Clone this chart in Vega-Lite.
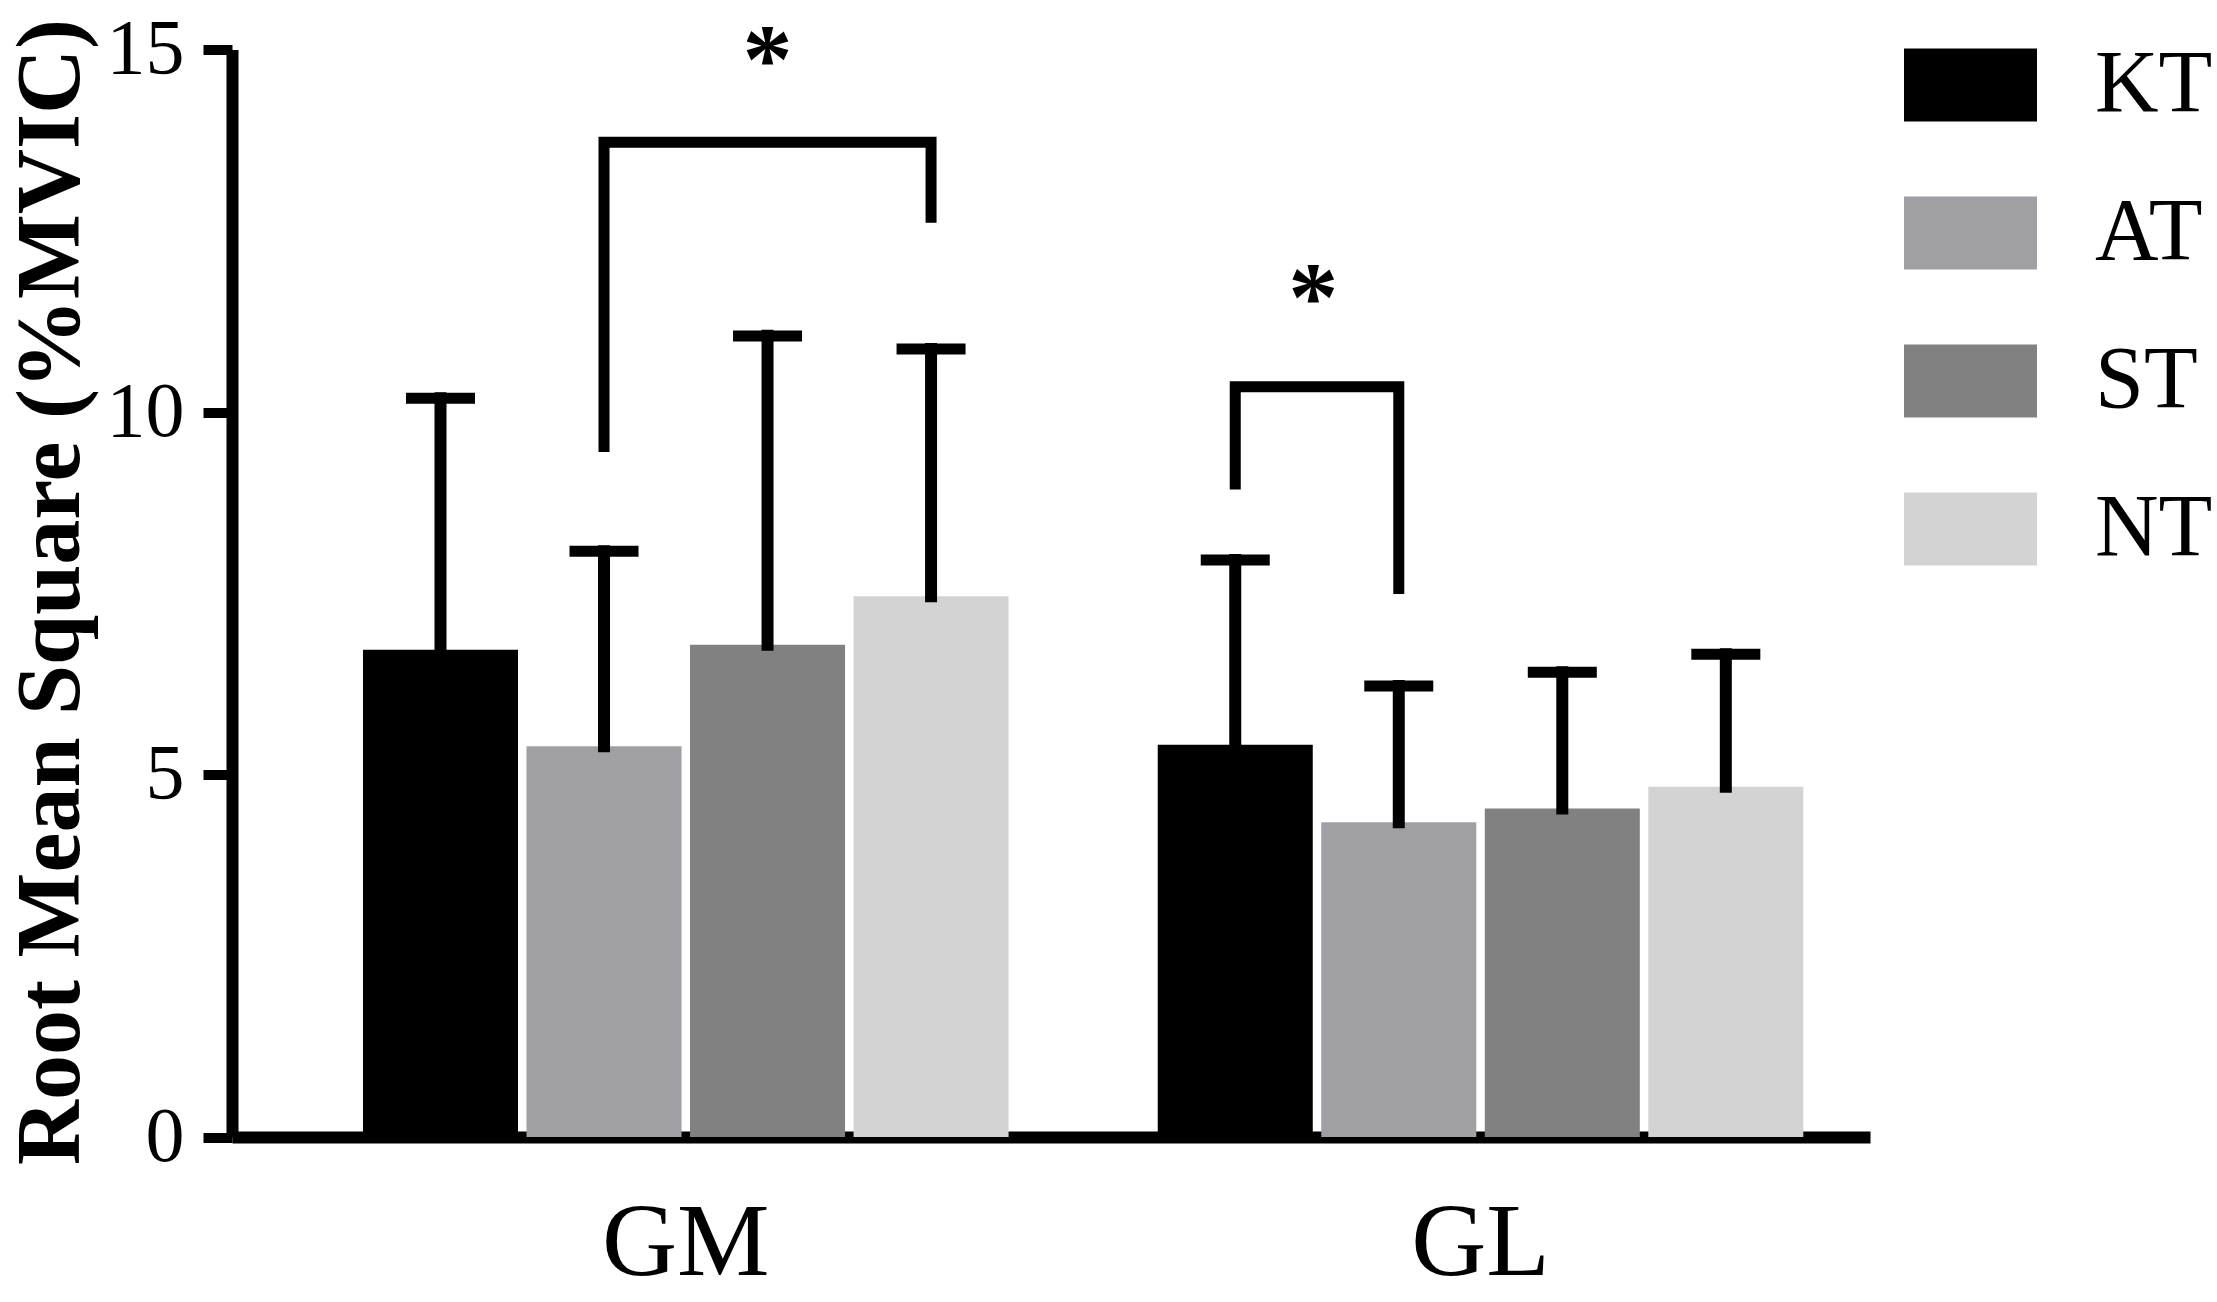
{
  "$schema": "https://vega.github.io/schema/vega-lite/v6.json",
  "autosize": {"type": "none"},
  "padding": {"left": 232, "top": 49.5, "right": 347, "bottom": 165},
  "width": 1638,
  "height": 1087.5,
  "background": "white",
  "config": {
    "view": {"stroke": null},
    "axis": {"domainColor": "black", "tickColor": "black", "labelColor": "black", "titleColor": "black", "grid": false}
  },
  "datasets": {
    "bars": [
      {"muscle": "GM", "cond": "KT", "mean": 6.72, "upper": 10.19},
      {"muscle": "GM", "cond": "AT", "mean": 5.39, "upper": 8.08},
      {"muscle": "GM", "cond": "ST", "mean": 6.79, "upper": 11.05},
      {"muscle": "GM", "cond": "NT", "mean": 7.46, "upper": 10.87},
      {"muscle": "GL", "cond": "KT", "mean": 5.41, "upper": 7.96},
      {"muscle": "GL", "cond": "AT", "mean": 4.34, "upper": 6.22},
      {"muscle": "GL", "cond": "ST", "mean": 4.53, "upper": 6.41},
      {"muscle": "GL", "cond": "NT", "mean": 4.83, "upper": 6.66}
    ],
    "brackets": [
      {"id": "b1", "muscle": "GM", "cond": "AT", "y": 9.45, "ord": 1},
      {"id": "b1", "muscle": "GM", "cond": "AT", "y": 13.72, "ord": 2},
      {"id": "b1", "muscle": "GM", "cond": "NT", "y": 13.72, "ord": 3},
      {"id": "b1", "muscle": "GM", "cond": "NT", "y": 12.61, "ord": 4},
      {"id": "b2", "muscle": "GL", "cond": "KT", "y": 8.93, "ord": 1},
      {"id": "b2", "muscle": "GL", "cond": "KT", "y": 10.35, "ord": 2},
      {"id": "b2", "muscle": "GL", "cond": "AT", "y": 10.35, "ord": 3},
      {"id": "b2", "muscle": "GL", "cond": "AT", "y": 7.49, "ord": 4}
    ],
    "stars": [
      {"muscle": "GM", "cond": "ST", "y": 15.07, "label": "*"},
      {"muscle": "GL", "cond": "KT", "y": 11.79, "label": "*"}
    ]
  },
  "encoding": {
    "x": {
      "field": "muscle", "type": "nominal",
      "scale": {"domain": ["GM", "GL"], "paddingInner": 0.177, "paddingOuter": 0.119, "align": 0.67},
      "axis": {"title": null, "ticks": false, "tickSize": 0, "domainWidth": 12, "labelAngle": 0, "labelFont": "Liberation Serif", "labelFontSize": 104, "labelPadding": 137, "labelBaseline": "alphabetic"}
    },
    "xOffset": {
      "field": "cond", "type": "nominal",
      "scale": {"domain": ["KT", "AT", "ST", "NT"], "paddingInner": 0.052, "paddingOuter": 0.026}
    }
  },
  "layer": [
    {
      "data": {"name": "bars"},
      "mark": {"type": "bar"},
      "encoding": {
        "y": {
          "field": "mean", "type": "quantitative",
          "scale": {"domain": [0, 15], "nice": false, "zero": true},
          "axis": {
            "values": [0, 5, 10, 15], "format": "d", "tickSize": 29, "tickWidth": 10, "domainWidth": 12, "labelPadding": 19,
            "labelFont": "Liberation Serif", "labelFontSize": 78,
            "title": "Root Mean Square (%MVIC)", "titleFont": "Liberation Serif", "titleFontWeight": "bold",
            "titleFontSize": 90, "titleAngle": -90, "titleX": -154, "titleY": 542,
            "titleAlign": "center", "titleBaseline": "alphabetic"
          }
        },
        "color": {
          "field": "cond", "type": "nominal",
          "scale": {"domain": ["KT", "AT", "ST", "NT"], "range": ["#000000", "#a0a0a4", "#818181", "#d3d3d3"]},
          "legend": {
            "orient": "none", "legendX": 1672, "legendY": -31, "title": null, "padding": 0,
            "symbolType": "M-1,-0.55H1V0.55H-1Z", "symbolSize": 17689, "symbolStrokeWidth": 0,
            "labelFont": "Liberation Serif", "labelFontSize": 88, "labelOffset": 58, "labelColor": "black",
            "rowPadding": 37
          }
        }
      }
    },
    {
      "data": {"name": "bars"},
      "mark": {"type": "rule", "color": "black", "strokeWidth": 12, "strokeCap": "square"},
      "encoding": {
        "y": {"field": "mean", "type": "quantitative"},
        "y2": {"field": "upper"}
      }
    },
    {
      "data": {"name": "bars"},
      "mark": {"type": "tick", "color": "black", "thickness": 11, "size": 69, "opacity": 1},
      "encoding": {
        "y": {"field": "upper", "type": "quantitative"}
      }
    },
    {
      "data": {"name": "brackets"},
      "mark": {"type": "line", "color": "black", "strokeWidth": 11, "strokeJoin": "miter", "strokeCap": "butt"},
      "encoding": {
        "y": {"field": "y", "type": "quantitative"},
        "detail": {"field": "id"},
        "order": {"field": "ord", "type": "quantitative"}
      }
    },
    {
      "data": {"name": "stars"},
      "transform": [{"filter": "datum.muscle == 'GM'"}],
      "mark": {"type": "text", "font": "Liberation Serif", "fontWeight": "bold", "fontSize": 100, "baseline": "middle", "dy": 18, "color": "black"},
      "encoding": {
        "y": {"field": "y", "type": "quantitative"},
        "text": {"field": "label"}
      }
    },
    {
      "data": {"name": "stars"},
      "transform": [{"filter": "datum.muscle == 'GL'"}],
      "mark": {"type": "text", "font": "Liberation Serif", "fontWeight": "bold", "fontSize": 100, "baseline": "middle", "dy": 18, "dx": 78, "color": "black"},
      "encoding": {
        "y": {"field": "y", "type": "quantitative"},
        "text": {"field": "label"}
      }
    }
  ]
}
